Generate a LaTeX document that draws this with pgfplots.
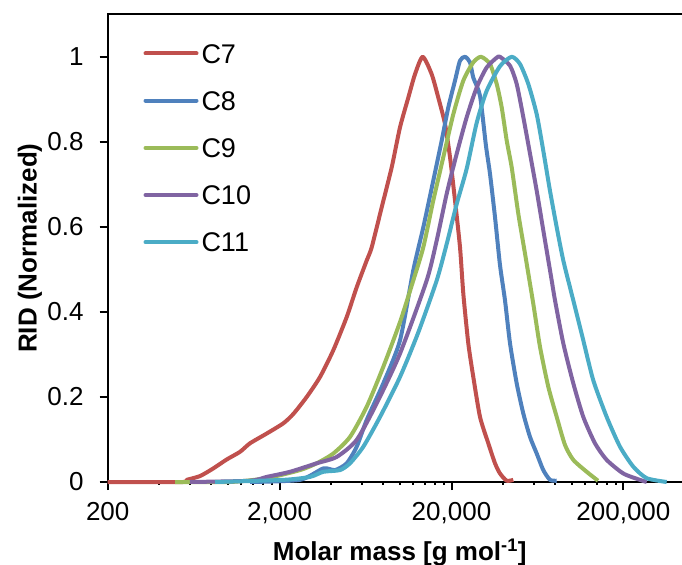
\documentclass[border=0pt]{standalone}
\usepackage{fontspec}
\setmainfont{Liberation Sans}
\usepackage{pgfplots}
\pgfplotsset{compat=1.18}

\definecolor{cseven}{HTML}{C0504D}
\definecolor{ceight}{HTML}{4F81BD}
\definecolor{cnine}{HTML}{9BBB59}
\definecolor{cten}{HTML}{8064A2}
\definecolor{celeven}{HTML}{4BACC6}

\newcommand{\fs}{\fontsize{26bp}{31bp}\selectfont}
\newcommand{\fsl}{\fontsize{27bp}{32bp}\selectfont}

\begin{document}
\begin{tikzpicture}
\begin{axis}[
    name=ax,
    scale only axis,
    width=584.1bp, height=467.7bp,
    xmode=log,
    xmin=200, xmax=500000,
    ymin=0, ymax=1.1,
    xtick={200,2000,20000,200000},
    xticklabels={200,{2,000},{20,000},{200,000}},
    minor xtick={},
    ytick={0,0.2,0.4,0.6,0.8,1},
    yticklabels={0,0.2,0.4,0.6,0.8,1},
    tick align=outside,
    xtick pos=bottom, ytick pos=left,
    major tick length=8bp,
    tick style={black, line width=2bp},
    axis line style={black, line width=2.2bp},
    ticklabel style={font=\fs, inner sep=0pt},
    xticklabel shift=12bp,
    yticklabel shift=16bp,
    clip=false,
    every axis y label/.style={at={(axis description cs:-0.133,0.5)}, anchor=center, rotate=90},
    every axis x label/.style={at={(axis description cs:0.5,-0.1668)}, anchor=base},
    ylabel={\fs\bfseries RID (Normalized)},
    xlabel={\fs\bfseries Molar mass [g mol\textsuperscript{-1}]},
    legend style={draw=none, fill=none, inner sep=0pt, at={(axis description cs:0,1)},
      anchor=north west, xshift=35.6bp, yshift=-29.2bp, font=\fsl,
      row sep=27.7bp, column sep=3bp,
      nodes={inner sep=0pt, text height=19.5bp, text depth=0pt}},
    legend cell align=left,
    legend image code/.code={\draw[#1, line width=4bp, line cap=round] (0bp,0bp) -- (51bp,0bp);},
    every axis plot/.append style={line width=4bp, line join=round, smooth, tension=0.4},
  ]
  \addplot[cseven] coordinates {
    (200,0) (548,0) (576,0.005) (689,0.014) (823,0.032) (985,0.053) (1177,0.071)
    (1345,0.091) (1683,0.114) (2101,0.138) (2403,0.160) (2875,0.200) (3436,0.247)
    (4106,0.310) (4913,0.388) (5617,0.458) (6423,0.521) (6868,0.552) (7852,0.646)
    (8977,0.740) (10030,0.834) (11211,0.904) (12262,0.959) (13597,1.0) (15338,0.959)
    (16759,0.904) (18335,0.842) (19603,0.764) (20963,0.662) (22414,0.552) (23427,0.443)
    (25046,0.326) (26781,0.247) (29305,0.153) (32741,0.091) (35818,0.044) (38302,0.020)
    (41898,0.003) (45765,0.005)
  };
  \addlegendentry{C7}
  \addplot[ceight] coordinates {
    (1345,0) (2628,0.005) (3592,0.032) (4201,0.028) (4913,0.044) (5617,0.083)
    (6423,0.146) (8022,0.232) (10030,0.333) (11986,0.498) (13707,0.599) (15670,0.709)
    (17539,0.803) (19162,0.881) (20963,0.944) (22414,0.991) (23964,1.0) (25624,0.987)
    (26781,0.951) (29305,0.908) (31747,0.79) (33492,0.725) (35818,0.623) (38302,0.51)
    (40954,0.427) (43797,0.326) (47897,0.232) (52333,0.161) (57247,0.106) (62614,0.067)
    (68399,0.028) (74817,0.005) (81866,0.003)
  };
  \addlegendentry{C8}
  \addplot[cnine] coordinates {
    (493,0) (1029,0) (1683,0.009) (2628,0.028) (3287,0.044) (4106,0.067) (5135,0.106)
    (6423,0.177) (8022,0.271) (10030,0.376) (11986,0.474) (13707,0.552) (15670,0.662)
    (17921,0.764) (20491,0.865) (23427,0.944) (26781,0.987) (29701,1.0) (33492,0.983)
    (36643,0.936) (39184,0.881) (41898,0.803) (44795,0.740) (48934,0.631) (53540,0.537)
    (59826,0.419) (65440,0.318) (73132,0.224) (81866,0.153) (91474,0.087) (102230,0.052)
    (122320,0.024) (142340,0.003)
  };
  \addlegendentry{C9}
  \addplot[cten] coordinates {
    (602,0) (1345,0.003) (1683,0.012) (2299,0.024) (3287,0.044) (4297,0.059)
    (5617,0.099) (7342,0.185) (10030,0.302) (14345,0.474) (16403,0.568) (18755,0.678)
    (21446,0.772) (24516,0.858) (28033,0.928) (32045,0.975) (36643,0.998) (38302,1.0)
    (43797,0.979) (47897,0.936) (52333,0.858) (57247,0.772) (62614,0.685) (68399,0.592)
    (76540,0.474) (80022,0.427) (89414,0.326) (102230,0.232) (116870,0.153)
    (136720,0.091) (159900,0.052) (199720,0.020) (249770,0.005) (273240,0)
  };
  \addlegendentry{C10}
  \addplot[celeven] coordinates {
    (842,0) (2101,0.005) (3006,0.012) (3592,0.024) (4492,0.028) (5135,0.044)
    (6137,0.083) (7675,0.153) (10030,0.247) (12766,0.35) (16403,0.474) (18755,0.560)
    (21446,0.654) (24516,0.737) (28033,0.845) (32045,0.92) (38302,0.978) (44795,1.0)
    (50059,0.983) (55957,0.936) (62614,0.865) (68399,0.779) (74817,0.685) (81866,0.599)
    (89414,0.521) (102230,0.427) (116870,0.333) (133640,0.239) (159900,0.153)
    (191070,0.083) (228370,0.036) (273240,0.009) (357180,0)
  };
  \addlegendentry{C11}
\end{axis}
\pgfresetboundingbox
\path[use as bounding box] ([xshift=-107.7bp,yshift=-83bp]ax.south west)
  rectangle ([xshift=574.3bp,yshift=14.3bp]ax.north west);
\end{tikzpicture}
\end{document}
